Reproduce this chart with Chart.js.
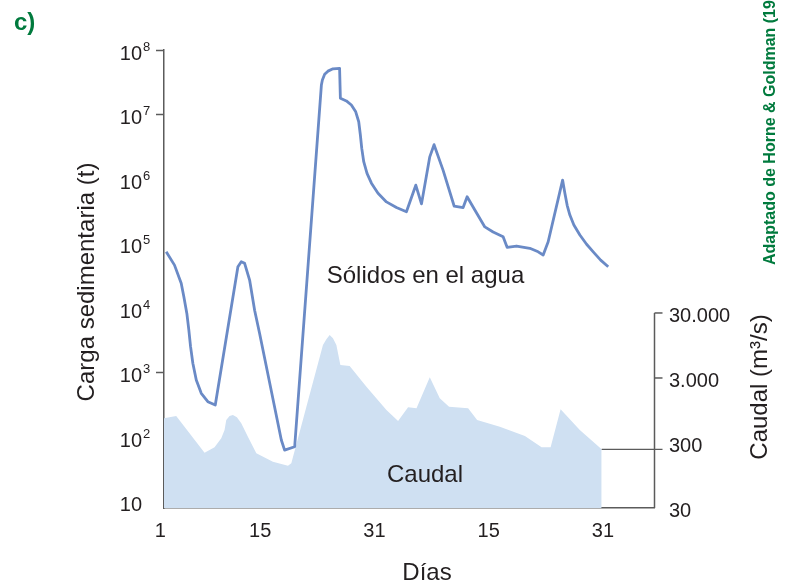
<!DOCTYPE html>
<html lang="es">
<head>
    <meta charset="UTF-8">
    <meta name="viewport" content="width=device-width, initial-scale=1.0">
    <title>Carga sedimentaria y caudal</title>
    <script src="https://cdn.jsdelivr.net/npm/chart.js"></script>
    <style>
        body {
            margin: 0;
            background-color: #fff;
        }
        .chart-container {
            position: relative;
            width: 793px;
            height: 587px;
        }
    </style>
</head>
<body>
    <div class="chart-container">
        <canvas id="myChart"></canvas>
    </div>

    <script>
        // Sólidos en el agua (t)
        const solidsDays = [1.84, 3.00, 3.94, 4.31, 4.73, 5.01, 5.25, 5.57, 6.05, 6.75, 7.67, 8.71,
            11.88, 12.35, 12.82, 13.52, 14.22, 14.92, 17.96, 18.42, 19.83,
            23.57, 23.71, 24.03, 24.49, 25.19, 26.12, 26.23, 27.07, 27.77, 28.38, 28.80,
            29.03, 29.22, 29.50, 29.96, 30.58, 31.50, 32.68, 34.08, 35.48,
            36.79, 37.59, 38.75, 39.35, 40.61, 42.16, 43.42, 43.98, 45.06, 46.46, 47.62,
            49.02, 49.58, 50.90, 52.76, 53.93, 54.63, 55.33,
            57.35, 57.67, 57.99, 58.37, 58.93, 59.77, 60.71, 61.64, 62.68, 63.74];
        const solidsLoad = [7.4e4, 4.6e4, 2.4e4, 1.49e4, 8.2e3, 4.5e3, 2.5e3, 1.38e3, 760, 472, 350, 311,
            4.35e4, 5.2e4, 4.9e4, 2.7e4, 9.2e3, 4.0e3, 89, 62, 70,
            2.86e7, 3.43e7, 4.2e7, 4.7e7, 5.1e7, 5.2e7, 1.78e7, 1.62e7, 1.40e7, 1.10e7, 7.7e6,
            4.8e6, 3.0e6, 1.85e6, 1.22e6, 8.6e5, 6.0e5, 4.4e5, 3.6e5, 3.1e5,
            8.0e5, 4.1e5, 2.2e6, 3.4e6, 1.37e6, 3.8e5, 3.6e5, 5.3e5, 3.3e5, 1.8e5, 1.5e5,
            1.27e5, 8.7e4, 9.1e4, 8.4e4, 7.4e4, 6.6e4, 1.06e5,
            9.6e5, 6.0e5, 3.9e5, 2.75e5, 1.93e5, 1.35e5, 9.7e4, 7.4e4, 5.5e4, 4.35e4];

        // Caudal (m3/s)
        const flowDays = [1.53, 3.24, 7.21, 8.61, 9.55, 10.01, 10.25, 10.71, 11.18, 11.74, 12.35,
            13.28, 14.46, 16.78, 18.89, 19.36, 21.47, 23.79, 24.27, 24.73, 25.19, 25.67,
            26.23, 27.53, 29.88, 32.68, 34.31, 35.71, 36.89, 38.75, 40.15, 41.45,
            44.12, 45.38, 48.56, 52.07, 54.41, 55.67, 57.07, 59.76, 62.82];
        const flowValues = [720, 780, 213, 258, 354, 475, 678, 780, 810, 745, 603,
            375, 208, 155, 134, 146, 1085, 9660, 11800, 13770, 12240, 9660,
            4750, 4590, 2200, 966, 654, 1062, 1026, 3075, 1461, 1085,
            1026, 678, 534, 384, 258, 258, 990, 475, 240];

        // Ejes
        const dayTicks = [1, 15, 31, 47, 63];
        const dayTickLabels = ['1', '15', '31', '15', '31'];
        const loadTicks = [10, 1e2, 1e3, 1e4, 1e5, 1e6, 1e7, 1e8];
        const loadTickMarks = [1e3, 1e7, 1e8];
        const flowTicks = [30, 300, 3000, 30000];
        const flowTickLabels = ['30', '300', '3.000', '30.000'];

        const fontFamily = '"Liberation Sans", Arial, Helvetica, sans-serif';
        const textColor = '#231f20';
        const axisColor = '#5b5b5b';
        const green = '#007a3d';

        Chart.defaults.font.family = fontFamily;
        Chart.defaults.color = textColor;

        // Textos, eje derecho y etiquetas con superíndice
        const decorations = {
            id: 'decorations',
            afterDraw(chart) {
                const { ctx, scales } = chart;
                const x = scales.x, y = scales.y, y2 = scales.y2;
                ctx.save();
                ctx.fillStyle = textColor;
                ctx.textBaseline = 'alphabetic';

                // etiquetas del eje X
                ctx.font = '20px ' + fontFamily;
                ctx.textAlign = 'center';
                dayTicks.forEach((d, i) => {
                    ctx.fillText(dayTickLabels[i], x.getPixelForValue(d), 537);
                });

                // etiquetas del eje izquierdo (10, 10², ...)
                loadTicks.forEach(v => {
                    const py = y.getPixelForValue(v) + 10;
                    const exp = Math.round(Math.log10(v));
                    ctx.font = '20px ' + fontFamily;
                    ctx.textAlign = 'right';
                    ctx.fillText('10', 142, py);
                    if (exp > 1) {
                        ctx.font = '13px ' + fontFamily;
                        ctx.textAlign = 'left';
                        ctx.fillText(String(exp), 143, py - 9);
                    }
                });

                // eje derecho (caudal)
                const ax = Math.round(x.right) + 0.5;
                const yBottom = y2.getPixelForValue(flowTicks[0]);
                const yTop = y2.getPixelForValue(flowTicks[flowTicks.length - 1]);
                ctx.strokeStyle = axisColor;
                ctx.lineWidth = 1.5;
                ctx.beginPath();
                ctx.moveTo(ax, yBottom);
                ctx.lineTo(ax, yTop);
                ctx.stroke();
                [3000, 30000].forEach(v => {
                    const py = y2.getPixelForValue(v);
                    ctx.beginPath();
                    ctx.moveTo(ax, py);
                    ctx.lineTo(ax + 8, py);
                    ctx.stroke();
                });

                // línea desde el último caudal hasta el eje
                const lastX = x.getPixelForValue(flowDays[flowDays.length - 1]);
                const lastY = y2.getPixelForValue(flowValues[flowValues.length - 1]);
                ctx.lineWidth = 1.2;
                ctx.beginPath();
                ctx.moveTo(lastX, lastY);
                ctx.lineTo(ax + 8, lastY);
                ctx.stroke();

                ctx.font = '20px ' + fontFamily;
                ctx.textAlign = 'left';
                flowTicks.forEach((v, i) => {
                    ctx.fillText(flowTickLabels[i], 669, y2.getPixelForValue(v) + 9);
                });

                // títulos de ejes y rótulos
                ctx.font = '24px ' + fontFamily;
                ctx.textAlign = 'center';
                ctx.fillText('Días', 427, 580);
                ctx.fillText('Sólidos en el agua', 425.5, 283);
                ctx.fillText('Caudal', 425, 482);

                ctx.save();
                ctx.translate(93.5, 282);
                ctx.rotate(-Math.PI / 2);
                ctx.fillText('Carga sedimentaria (t)', 0, 0);
                ctx.restore();

                ctx.save();
                ctx.translate(767, 387);
                ctx.rotate(-Math.PI / 2);
                ctx.fillText('Caudal (m³/s)', 0, 0);
                ctx.restore();

                // letra del panel y fuente
                ctx.fillStyle = green;
                ctx.font = 'bold 24px ' + fontFamily;
                ctx.textAlign = 'left';
                ctx.fillText('c)', 14, 30);

                ctx.save();
                ctx.translate(775, 265);
                ctx.rotate(-Math.PI / 2);
                ctx.font = 'bold 16px ' + fontFamily;
                ctx.fillText('Adaptado de Horne & Goldman (19', 0, 0);
                ctx.restore();

                ctx.restore();
            }
        };

        const config = {
            type: 'line',
            data: {
                datasets: [
                    {
                        label: 'Sólidos en el agua',
                        data: solidsDays.map((d, i) => ({ x: d, y: solidsLoad[i] })),
                        yAxisID: 'y',
                        borderColor: '#6a8ac6',
                        borderWidth: 2.8,
                        borderJoinStyle: 'round',
                        pointRadius: 0,
                        tension: 0,
                        fill: false,
                        order: 0
                    },
                    {
                        label: 'Caudal',
                        data: flowDays.map((d, i) => ({ x: d, y: flowValues[i] })),
                        yAxisID: 'y2',
                        borderColor: 'rgba(0,0,0,0)',
                        borderWidth: 0,
                        backgroundColor: '#cfe0f2',
                        pointRadius: 0,
                        tension: 0,
                        fill: 'start',
                        order: 1
                    }
                ]
            },
            options: {
                responsive: true,
                maintainAspectRatio: false,
                animation: false,
                layout: {
                    padding: { top: 50, right: 139, left: 0, bottom: 0 }
                },
                plugins: {
                    legend: { display: false },
                    tooltip: { enabled: false }
                },
                scales: {
                    x: {
                        type: 'linear',
                        position: 'bottom',
                        min: 1.53,
                        max: 70.15,
                        ticks: { display: false },
                        grid: { drawOnChartArea: false, drawTicks: false },
                        border: { display: true, color: axisColor, width: 1.5 },
                        afterFit: s => { s.height = 79; }
                    },
                    y: {
                        type: 'logarithmic',
                        position: 'left',
                        min: 7.85,
                        max: 1e8,
                        afterBuildTicks: s => { s.ticks = loadTicks.map(v => ({ value: v })); },
                        ticks: { display: false },
                        grid: {
                            drawOnChartArea: false,
                            drawTicks: true,
                            tickLength: 8,
                            tickWidth: 1.5,
                            tickColor: c => loadTickMarks.includes(c.tick && c.tick.value) ? axisColor : 'rgba(0,0,0,0)'
                        },
                        border: { display: true, color: axisColor, width: 1.5 },
                        afterFit: s => { s.width = 164; }
                    },
                    y2: {
                        type: 'logarithmic',
                        position: 'right',
                        min: 30,
                        max: 3.33e8,
                        display: false
                    }
                }
            },
            plugins: [decorations]
        };

        const ctx = document.getElementById('myChart').getContext('2d');
        const myChart = new Chart(ctx, config);
    </script>
</body>
</html>
